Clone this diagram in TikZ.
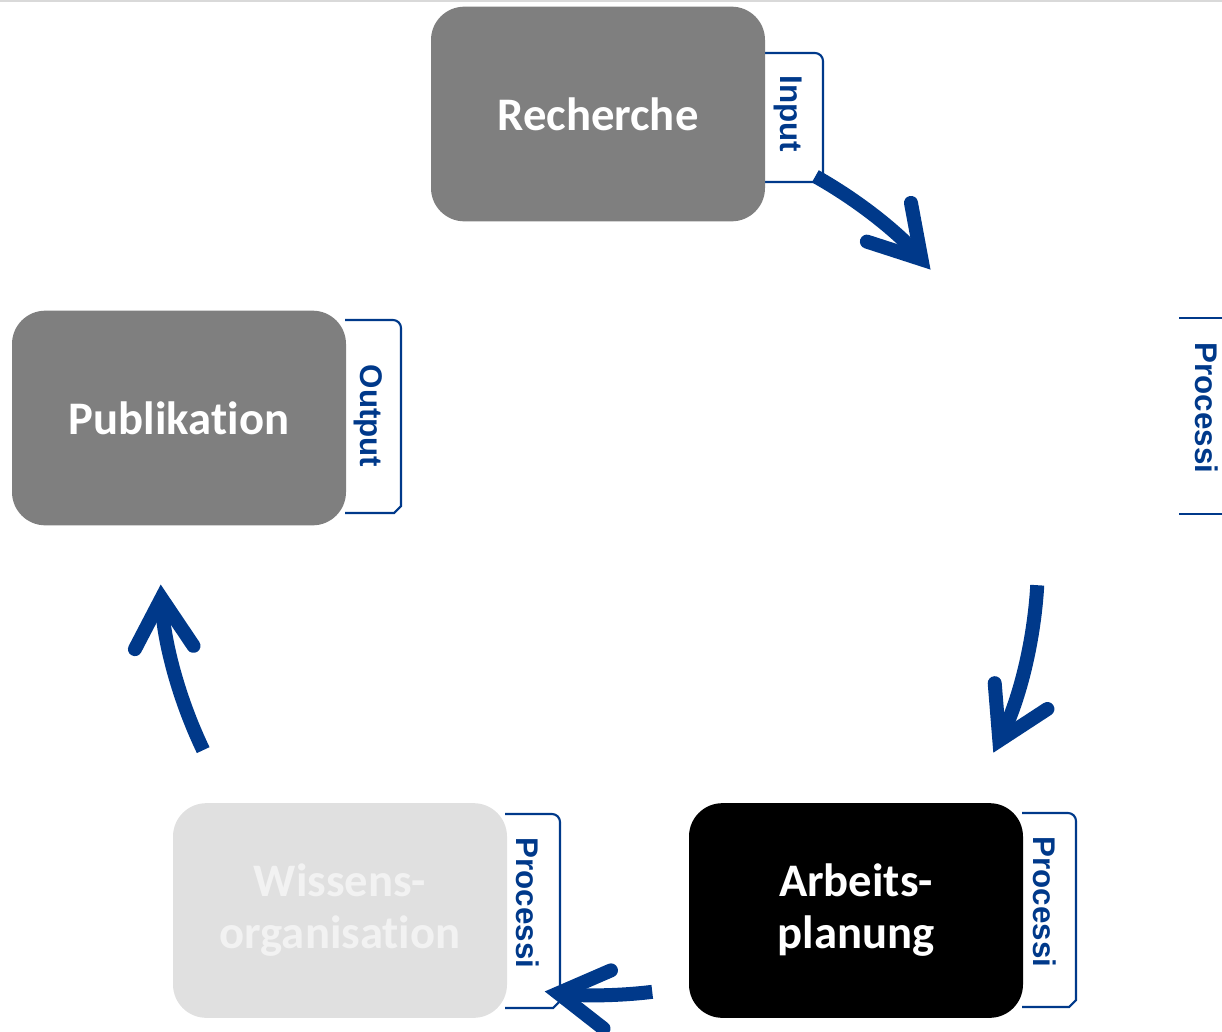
\documentclass[tikz,border=0pt]{standalone}
\usepackage{fontspec}
\setmainfont{Carlito}[Ligatures=NoCommon]
\newfontfamily\reiterfont{Liberation Sans}
\usetikzlibrary{arrows.meta}
\definecolor{blau}{RGB}{0,57,138}
\definecolor{grau}{RGB}{127,127,127}
\definecolor{hellgrau}{RGB}{224,224,224}
\tikzset{
  kasten/.style={rectangle, rounded corners=25pt, minimum width=250.5pt,
    minimum height=161pt, inner sep=0pt, align=center, text=white,
    font=\bfseries\fontsize{35}{39}\selectfont},
  reiter/.style={draw=blau, line width=1.6pt},
  reitertext/.style={rotate=-90, text=blau, inner sep=0pt,
    font=\reiterfont\bfseries\fontsize{23.5}{26}\selectfont},
  pfeil/.style={draw=blau, line width=10.5pt,
    -{Straight Barb[length=37pt, width=44pt, line cap=round]}}
}
\begin{document}
\begin{tikzpicture}[x=0.75pt, y=0.75pt]
    \useasboundingbox (0,0) rectangle (1222,-1032);
    % --- linia u góry ---
    \draw[gray!30, line width=1.5pt] (0,-1) -- (1222,-1);
    % --- zakładki ---
    \draw[reiter] (765,-53) -- (815,-53) arc[start angle=90, end angle=0, radius=8]
      -- (823,-175) -- (816,-182) -- (765,-182);
    \draw[reiter] (345,-320) -- (393,-320) arc[start angle=90, end angle=0, radius=8]
      -- (401,-506) -- (394,-513) -- (345,-513);
    \draw[reiter] (505,-814) -- (552,-814) arc[start angle=90, end angle=0, radius=8]
      -- (560,-1001) -- (553,-1008) -- (505,-1008);
    \draw[reiter] (1022,-813) -- (1068,-813) arc[start angle=90, end angle=0, radius=8]
      -- (1076,-1000) -- (1069,-1007) -- (1022,-1007);
    \draw[reiter] (1179,-318) -- (1222,-318);
    \draw[reiter] (1179,-514) -- (1222,-514);
    % --- kroki ---
    \node[kasten, fill=grau] (recherche) at (598,-114) {Recherche};
    \node[kasten, fill=grau] (publikation) at (179,-418) {Publikation};
    \node[kasten, fill=hellgrau, text=black!5] (wissen) at (340,-910.5) {Wissens-\\organisation};
    \node[kasten, fill=black] (planung) at (856,-910.5) {Arbeits-\\planung};
    % --- opisy zakładek ---
    \node[reitertext] (input) at (788,-114) {Input};
    \node[reitertext] (output) at (368,-416) {Output};
    \node[reitertext] (proz1) at (1207,-408) {Processi};
    \node[reitertext] (proz2) at (1045,-902) {Processi};
    \node[reitertext] (proz3) at (528,-903) {Processi};
    % --- strzałki na okręgu ---
    \coordinate (mitte) at (600,-560);
    \draw[pfeil] (mitte) ++(60.7:440) arc[start angle=60.7, end angle=41.3, radius=440];
    \draw[pfeil] (mitte) ++(-3.3:438) arc[start angle=-3.3, end angle=-26.1, radius=438];
    \draw[pfeil] (mitte) ++(-83.1:435) arc[start angle=-83.1, end angle=-97.3, radius=435];
    \draw[pfeil] (mitte) ++(205.6:440) arc[start angle=205.6, end angle=183.2, radius=440];
  \end{tikzpicture}
\end{document}
